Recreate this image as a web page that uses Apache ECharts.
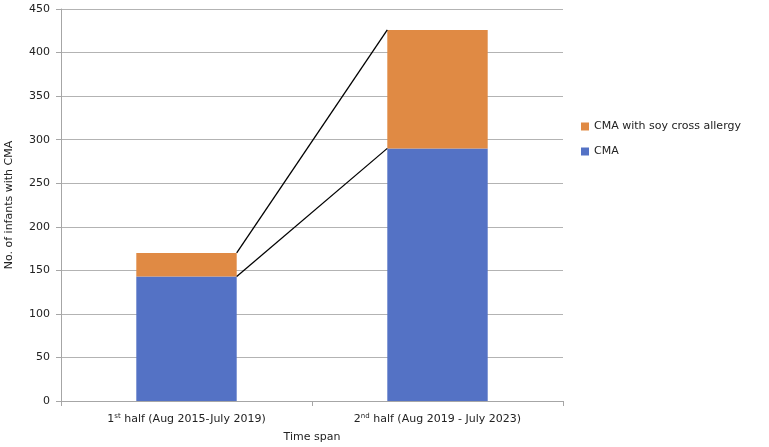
<!DOCTYPE html>
<html><head><meta charset="utf-8">
<script src="https://cdn.jsdelivr.net/npm/echarts@6/dist/echarts.min.js"></script>
<style>html,body{margin:0;padding:0;background:#fff}#c{width:769px;height:447px}</style>
</head><body><div id="c"></div>
<script>
const categories = ['1st half (Aug 2015-July 2019)', '2nd half (Aug 2019 - July 2023)'];
const cmaValues = [143, 290];
const soyValues = [27, 136];
const yTicks = [0, 50, 100, 150, 200, 250, 300, 350, 400, 450];

const cumCMA = cmaValues.slice();
const cumTotal = cmaValues.map((v, i) => v + soyValues[i]);
const connectors = [
  [0, cumCMA[0], 1, cumCMA[1]],
  [0, cumTotal[0], 1, cumTotal[1]]
];
const font = 'DejaVu Sans, Verdana, sans-serif';
const chart = echarts.init(document.getElementById('c'));
chart.setOption({
  animation: false,
  grid: {left: 61, right: 206, top: 9, bottom: 46, containLabel: false, outerBoundsMode: 'none'},
  legend: {
    orient: 'vertical', left: 576, top: 116, itemGap: 14,
    itemWidth: 8, itemHeight: 8, icon: 'rect',
    data: ['CMA with soy cross allergy', 'CMA'],
    textStyle: {fontFamily: font, fontSize: 11, color: '#222'}
  },
  xAxis: {
    type: 'category', data: categories,
    name: 'Time span', nameLocation: 'middle', nameGap: 31,
    nameTextStyle: {fontFamily: font, fontSize: 11, color: '#222'},
    axisLine: {lineStyle: {color: '#a6a6a6', width: 1}},
    axisTick: {show: true, length: 5, lineStyle: {color: '#a6a6a6'}},
    axisLabel: {
      interval: 0, hideOverlap: false,
      margin: 12, color: '#222', fontFamily: font, fontSize: 11,
      formatter: function (v) {
        const m = v.match(/^(\d)(st|nd)(.*)$/);
        return '{n|' + m[1] + '}{s|' + m[2] + '}{n|' + m[3] + '}';
      },
      rich: {
        n: {fontFamily: font, fontSize: 11, color: '#222'},
        s: {fontFamily: font, fontSize: 7, color: '#222', verticalAlign: 'top', padding: [0, 0, 5, 0]}
      }
    }
  },
  yAxis: {
    type: 'value', min: 0, max: 450, interval: 50,
    name: 'No. of infants with CMA', nameLocation: 'middle', nameGap: 46, nameRotate: 90,
    nameTextStyle: {fontFamily: font, fontSize: 11, color: '#222'},
    axisLine: {show: true, lineStyle: {color: '#a6a6a6'}},
    axisTick: {show: true, length: 5, inside: false, lineStyle: {color: '#a6a6a6'}},
    axisLabel: {color: '#222', fontFamily: font, fontSize: 11, margin: 11,
      formatter: v => yTicks.includes(v) ? String(v) : ''},
    splitLine: {lineStyle: {color: '#b3b3b3', width: 1}}
  },
  series: [
    {name: 'CMA', type: 'bar', stack: 'a', data: cmaValues, barWidth: '40%', itemStyle: {color: '#5472C5'}},
    {name: 'CMA with soy cross allergy', type: 'bar', stack: 'a', data: soyValues, barWidth: '40%', itemStyle: {color: '#E08A44'}},
    {
      type: 'custom', silent: true, z: 5,
      encode: {x: [0, 2], y: [1, 3]},
      data: connectors,
      renderItem: function (params, api) {
        const p1 = api.coord([api.value(0), api.value(1)]);
        const p2 = api.coord([api.value(2), api.value(3)]);
        const half = api.size([1, 0])[0] * 0.4 / 2;
        return {
          type: 'line',
          shape: {x1: p1[0] + half, y1: p1[1], x2: p2[0] - half, y2: p2[1]},
          style: {stroke: '#000', lineWidth: 1.3}
        };
      }
    }
  ]
});
</script></body></html>
